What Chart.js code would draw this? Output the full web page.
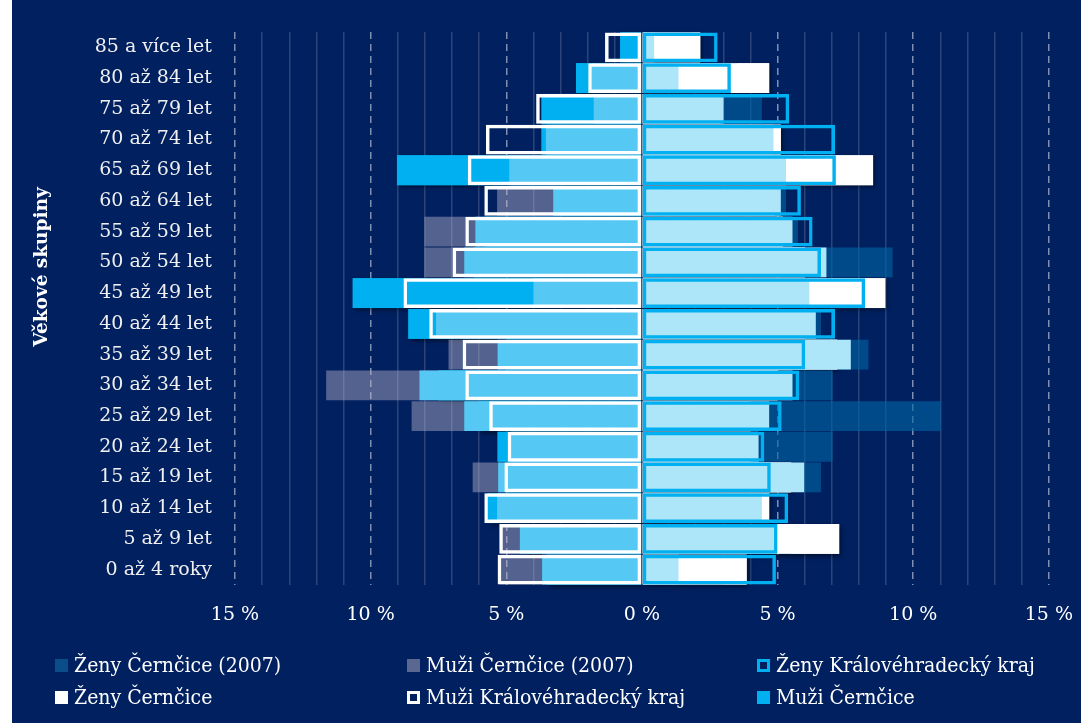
<!DOCTYPE html>
<html><head><meta charset="utf-8">
<script src="https://cdn.jsdelivr.net/npm/chart.js@4.4.1/dist/chart.umd.min.js"></script>
<style>
html,body{margin:0;padding:0;background:#fff;overflow:hidden;}
#wrap{position:absolute;left:12px;top:0;width:1069px;height:723px;background:#002060;overflow:hidden;}
#cbox{position:absolute;left:0;top:0;width:1080px;height:640px;}
#legend{position:absolute;left:0;top:0;width:1069px;height:723px;pointer-events:none;font-family:"DejaVu Serif Condensed","DejaVu Serif",serif;font-stretch:condensed;font-size:21px;color:#fff;}
.item{position:absolute;display:flex;align-items:center;white-space:nowrap;height:24px;line-height:24px;}
.sw{width:13px;height:13px;box-sizing:border-box;margin-right:6px;flex:none;}
#ytitle{position:absolute;left:28px;top:267px;transform:translate(-50%,-50%) rotate(-90deg);white-space:nowrap;font-family:"DejaVu Serif",serif;font-weight:bold;font-size:18.5px;color:#fff;}
</style></head>
<body>
<div id="wrap">
  <div id="cbox"><canvas id="c"></canvas></div>
  <div id="legend"></div>
  <div id="ytitle"></div>
</div>
<script>
const ageGroups = ["85 a více let","80 až 84 let","75 až 79 let","70 až 74 let","65 až 69 let","60 až 64 let","55 až 59 let","50 až 54 let","45 až 49 let","40 až 44 let","35 až 39 let","30 až 34 let","25 až 29 let","20 až 24 let","15 až 19 let","10 až 14 let","5 až 9 let","0 až 4 roky"];
const xTickValues = [-15,-10,-5,0,5,10,15];
const yAxisTitle = 'Věkové skupiny';
// women (right side), % of population
const zenyCernicice2007 = [1.8,3.5,4.42,4.5,6.0,5.31,5.75,9.24,7.0,6.6,8.35,7.03,11.02,7.03,6.6,4.0,5.5,3.0];
const zenyCernicice     = [2.15,4.69,2.9,5.12,8.52,4.9,5.2,6.0,8.97,6.0,7.2,5.0,4.0,4.0,5.5,4.69,7.27,3.86];
const zenySvetle        = [0.45,1.35,3.01,4.85,5.31,5.12,5.55,6.8,6.17,6.41,7.70,5.55,4.69,4.30,5.98,4.42,4.9,1.35];
const zenyKraj          = [2.79,3.28,5.43,7.12,7.15,5.86,6.29,6.60,8.23,7.12,6.02,5.80,5.15,4.51,4.75,5.39,5.00,4.94];
// men (left side), % of population
const muziCernicice2007 = [0.6,2.0,3.2,3.4,5.5,5.34,8.02,8.02,7.5,7.0,7.13,11.64,8.49,4.8,6.24,5.0,5.2,5.25];
const muziCernicice     = [0.80,2.43,3.70,3.70,9.03,3.0,5.8,6.2,10.66,8.61,5.0,7.5,6.0,5.32,5.0,5.69,4.3,3.5];
const muziSvetle        = [0,1.85,1.78,3.54,4.89,3.27,6.14,6.55,4.00,7.59,5.32,8.20,6.55,4.85,5.30,5.34,4.50,3.68];
const muziKraj          = [1.36,1.98,3.90,5.75,6.42,5.81,6.51,6.98,8.79,7.84,6.61,6.51,5.63,4.95,5.07,5.81,5.26,5.32];

const FONT = '"DejaVu Serif",serif';
const neg = a => a.map(v => -v);
const NAVY = '#002060';

const common = {grouped:false, categoryPercentage:1.0, barPercentage:0.97, borderWidth:0, borderSkipped:false};
const datasets = [
  {...common, label:'Ženy Královéhradecký kraj', data:zenyKraj, backgroundColor:'rgba(0,0,0,0)', borderColor:'#00b0f0', borderWidth:3.5, order:1, legendSwatch:{border:'#00b0f0'}},
  {...common, label:'Muži Královéhradecký kraj', data:neg(muziKraj), backgroundColor:'rgba(0,0,0,0)', borderColor:'#ffffff', borderWidth:3.5, order:1, legendSwatch:{border:'#ffffff'}},
  {...common, label:'_zenyLight', data:zenySvetle, backgroundColor:'#ade5f9', order:2},
  {...common, label:'_muziLight', data:neg(muziSvetle), backgroundColor:'#55c8f3', order:2},
  {...common, label:'Ženy Černčice', data:zenyCernicice, backgroundColor:'#ffffff', order:3, shadow:true, legendSwatch:{fill:'#ffffff'}},
  {...common, label:'Muži Černčice', data:neg(muziCernicice), backgroundColor:'#00b0f0', order:3, shadow:true, legendSwatch:{fill:'#00b0f0'}},
  {...common, label:'Ženy Černčice (2007)', data:zenyCernicice2007, backgroundColor:'rgba(0,100,165,0.62)', order:4, legendSwatch:{fill:'#0a4d88'}},
  {...common, label:'Muži Černčice (2007)', data:neg(muziCernicice2007), backgroundColor:'rgba(185,180,200,0.45)', order:4, legendSwatch:{fill:'#5a6790'}}
];

const shadowPlugin = {
  id:'barShadow',
  beforeDatasetsDraw(chart){
    const ctx = chart.ctx;
    chart.data.datasets.forEach((ds,i)=>{
      if(!ds.shadow) return;
      const meta = chart.getDatasetMeta(i);
      ctx.save();
      ctx.shadowColor='rgba(0,0,0,0.55)';
      ctx.shadowBlur=5; ctx.shadowOffsetX=2; ctx.shadowOffsetY=2;
      ctx.fillStyle = ds.backgroundColor;
      meta.data.forEach(el=>{
        const p = el.getProps(['x','y','base','height'], true);
        const l = Math.min(p.x,p.base), w = Math.abs(p.x-p.base);
        if(w>0) ctx.fillRect(l, p.y-p.height/2, w, p.height);
      });
      ctx.restore();
    });
  }
};

new Chart(document.getElementById('c'), {
  type:'bar',
  data:{labels:ageGroups, datasets},
  plugins:[shadowPlugin],
  options:{
    indexAxis:'y', responsive:true, maintainAspectRatio:false, animation:false,
    layout:{padding:{top:32, right:0, left:0, bottom:0}},
    plugins:{legend:{display:false}, tooltip:{enabled:false}},
    scales:{
      x:{type:'linear', min:-15, max:15, position:'bottom',
        afterBuildTicks: s => { s.ticks = xTickValues.map(v=>({value:v})); },
        ticks:{callback:v=>Math.abs(v)+' %', color:'#ffffff', font:{family:FONT, size:19}, padding:19, maxRotation:0, autoSkip:false},
        grid:{color:c=> (c.tick && c.tick.value===0)?'rgba(0,0,0,0)':'rgba(255,255,255,0.5)', lineWidth:1.5, drawTicks:false},
        border:{display:false, dash:[7,5]},
        afterFit:s=>{s.height=55;}
      },
      x2:{type:'linear', min:-15, max:15, position:'bottom',
        ticks:{display:false, stepSize:1, maxTicksLimit:100},
        grid:{color:c=> (c.tick && Math.round(c.tick.value)%5===0)?'rgba(0,0,0,0)':'rgba(255,255,255,0.17)', lineWidth:1.5, drawTicks:false},
        border:{display:false},
        afterFit:s=>{s.height=0;}
      },
      y:{type:'category', position:'left',
        ticks:{color:'#f0f0f0', font:{family:FONT, size:19}, padding:15},
        grid:{display:false}, border:{display:false},
        afterFit:s=>{s.width=223;}
      }
    }
  }
});

document.getElementById('ytitle').textContent = yAxisTitle;

// HTML legend in three columns, two rows
const legendOrder = ['Ženy Černčice (2007)','Muži Černčice (2007)','Ženy Královéhradecký kraj','Ženy Černčice','Muži Královéhradecký kraj','Muži Černčice'];
const colX = [43,395,745], rowY = [653,685];
const lg = document.getElementById('legend');
legendOrder.forEach((name,k)=>{
  const ds = datasets.find(d=>d.label===name);
  const it = document.createElement('div'); it.className='item';
  it.style.left = colX[k%3]+'px'; it.style.top = rowY[Math.floor(k/3)]+'px';
  const sw = document.createElement('span'); sw.className='sw';
  if(ds.legendSwatch.border){ sw.style.border='3px solid '+ds.legendSwatch.border; sw.style.background=NAVY; }
  else sw.style.background=ds.legendSwatch.fill;
  const tx = document.createElement('span'); tx.textContent=name;
  it.appendChild(sw); it.appendChild(tx); lg.appendChild(it);
});
</script>
</body></html>
